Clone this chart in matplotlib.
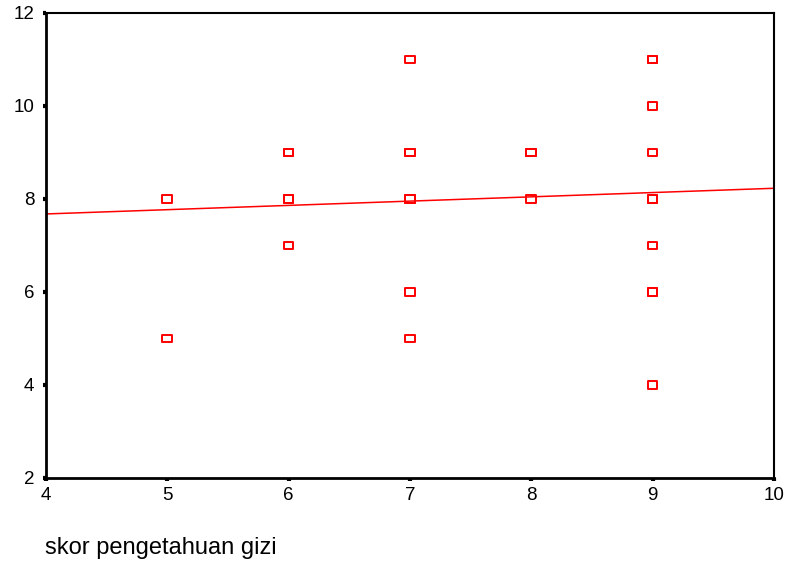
import matplotlib
matplotlib.use("agg")
import matplotlib.pyplot as plt
from matplotlib.path import Path
import numpy as np

# skor pengetahuan gizi vs. second score (duplicated points appear bolder)
x_vals = [5, 5, 6, 6, 6, 6, 6, 7, 7, 7, 7, 7, 7, 7, 8, 8, 8, 9, 9, 9, 9, 9, 9, 9, 9, 9, 9]
y_vals = [8, 5, 9, 9, 8, 8, 7, 11, 9, 9, 8, 8, 6, 5, 9, 9, 8, 11, 11, 10, 9, 8, 8, 7, 6, 6, 4]

# fitted line
fit_intercept = 7.31
fit_slope = 0.092

x_ticks = [4, 5, 6, 7, 8, 9, 10]
y_ticks = [2, 4, 6, 8, 10, 12]

plt.rcParams['font.family'] = ['Liberation Sans', 'DejaVu Sans']

# slightly wide open square, like the SPSS marker
box = Path([(-0.65, -0.5), (0.65, -0.5), (0.65, 0.5), (-0.65, 0.5), (-0.65, -0.5)],
           [Path.MOVETO, Path.LINETO, Path.LINETO, Path.LINETO, Path.CLOSEPOLY])

fig = plt.figure(figsize=(7.86, 5.62), dpi=100)
ax = fig.add_axes([0.0585, 0.1495, 0.926, 0.8274])

ax.scatter(x_vals, y_vals, marker=box, s=48, facecolors='none',
           edgecolors='#ff0000', linewidths=1.4, zorder=3)

line_x = np.array([4, 10])
ax.plot(line_x, fit_intercept + fit_slope * line_x, color='#ff0000', linewidth=1.1, zorder=2)

ax.set_xlim(4, 10)
ax.set_ylim(2, 12)
ax.set_xticks(x_ticks)
ax.set_yticks(y_ticks)
ax.tick_params(direction='out', length=2.5, width=3, color='black',
               labelsize=13.5, pad=4)
ax.tick_params(axis='y', pad=6)

for side in ['left', 'bottom']:
    ax.spines[side].set_linewidth(2)
for side in ['top', 'right']:
    ax.spines[side].set_linewidth(1.5)

fig.text(0.057, 0.025, 'skor pengetahuan gizi', fontsize=17, ha='left', va='center')

fig.savefig('out.png', dpi=100)
plt.close(fig)
